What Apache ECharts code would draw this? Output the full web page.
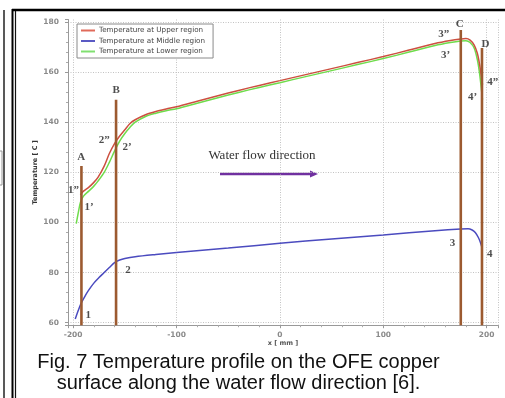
<!DOCTYPE html>
<html><head><meta charset="utf-8">
<script src="https://cdn.jsdelivr.net/npm/echarts@6/dist/echarts.min.js"></script>
<style>html,body{margin:0;padding:0;background:#fff}#c{width:505px;height:398px}</style>
</head><body><div id="c"></div>
<script>
// Upper region (red)
const upperX = [-193,-190,-185,-180,-176,-170,-165,-160,-155,-150,-145,-140,-130,-120,-110,-100,-80,-60,-40,-20,0,25,50,75,100,125,150,165,175,180,184,188,191,193,195,196];
const upperT = [111,112.5,114,116,118,122.5,127.5,131.5,134.5,137,139.5,141,143,144.3,145.3,146.2,148.4,150.6,152.7,154.7,156.6,159,161.4,163.8,166.2,168.8,171.4,172.6,173.2,173.4,172.8,170.8,167.5,163.5,158,155];
// Lower region (green)
const lowerX = [-197,-195,-193,-190,-185,-180,-176,-170,-165,-160,-155,-150,-145,-140,-130,-120,-110,-100,-80,-60,-40,-20,0,25,50,75,100,125,150,165,175,180,184,188,191,193,195,196];
const lowerT = [99.5,104,108,110.5,112.5,114.5,116.5,120,124,128.5,132.5,135.5,138,140,142.3,143.6,144.6,145.4,147.6,149.8,151.9,153.9,155.8,158.2,160.6,163,165.4,168,170.6,171.8,172.4,172.5,171.8,169.5,165,160,153,149];
// Middle region (blue)
const middleX = [-198,-195,-192,-188,-185,-180,-175,-170,-165,-160,-155,-150,-140,-120,-100,-50,0,50,100,150,175,182,186,189,192,194,195.5];
const middleT = [61.5,65,68,71,73,75.8,78,80,82,84,85,85.6,86.3,87.2,88,89.8,91.7,93.4,95,96.7,97.4,97.5,97,96,94,92,90];

const seriesNames = ['Temperature at Upper region','Temperature at Middle region','Temperature at Lower region'];

// Section markers A-D (vertical lines)
const markerX = [-192, -158.5, 175, 195.5];
const markerTop = [122.5, 149, 176.8, 169.6];

// Annotation labels
const annoText = ['A','B','C','D','1\u201d','1\u2019','2\u201d','2\u2019','3\u201d','3\u2019','4\u201d','4\u2019','1','2','3','4'];
const annoX = [-192.3,-158.5,173.9,199,-199.8,-184.5,-170,-147.8,158.5,160.4,205.8,186.5,-185.5,-146.9,167.1,202.9];
const annoT = [126.1,152.9,179.2,171.2,113,106.2,132.9,130.1,175.2,166.8,156,150,63.1,81,91.8,87.4];

const xTicks = [-200,-150,-100,-50,0,50,100,150,200];
const yTicks = [60,80,100,120,140,160,180];

const X_MIN = -205, X_MAX = 211, Y_MIN = 59, Y_MAX = 181;

const zip = (a, b) => a.map((v, i) => [v, b[i]]);

const chart = echarts.init(document.getElementById('c'), null, {renderer: 'canvas'});

const gridColorsX = ['rgba(0,0,0,0)'].concat(xTicks.map(() => '#c2c2c2')).concat(['rgba(0,0,0,0)']);
const gridColorsY = ['rgba(0,0,0,0)'].concat(yTicks.map(() => '#c2c2c2')).concat(['rgba(0,0,0,0)']);

const series = [
  {name: seriesNames[0], type: 'line', data: zip(upperX, upperT), smooth: 0.3, symbol: 'none',
   lineStyle: {color: '#cc5040', width: 1.5}, itemStyle: {color: '#e06a5a'}, z: 4},
  {name: seriesNames[1], type: 'line', data: zip(middleX, middleT), smooth: 0.3, symbol: 'none',
   lineStyle: {color: '#4b4bbf', width: 1.5}, itemStyle: {color: '#5a5ac4'}, z: 4},
  {name: seriesNames[2], type: 'line', data: zip(lowerX, lowerT), smooth: 0.3, symbol: 'none',
   lineStyle: {color: '#6fdc4c', width: 1.5}, itemStyle: {color: '#80e070'}, z: 3}
];
markerX.forEach((x, i) => {
  series.push({type: 'line', data: [[x, Y_MIN], [x, markerTop[i]]], symbol: 'none', silent: true,
    lineStyle: {color: '#9c5a30', width: 2.6}, z: 5});
});
series.push({
  type: 'scatter', symbolSize: 1, itemStyle: {color: 'rgba(0,0,0,0)'}, clip: false, silent: true, z: 6,
  data: annoText.map((t, i) => ({value: [annoX[i], annoT[i]], name: t})),
  label: {show: true, position: 'inside', formatter: p => p.name, color: '#222',
    fontFamily: 'Liberation Serif', fontWeight: 'bold', fontSize: 11}
});

const axisLabelStyle = {color: '#8a8a8a', fontFamily: 'DejaVu Sans', fontSize: 7.5, fontWeight: 'bold'};

chart.setOption({
  animation: false,
  backgroundColor: '#fff',
  grid: {left: 68, right: 505 - 498, top: 19.5, bottom: 398 - 325.2, containLabel: false},
  legend: {
    data: seriesNames.map(n => ({name: n, icon: 'rect'})), orient: 'vertical', left: 77, top: 24,
    itemWidth: 14, itemHeight: 2, itemGap: 3.5,
    padding: [3, 8, 3, 4],
    borderColor: '#8a8a8a', borderWidth: 1, backgroundColor: '#fff',
    textStyle: {fontFamily: 'DejaVu Sans', fontSize: 7.2, color: '#444', padding: [0,0,0,-1]}
  },
  xAxis: {
    type: 'value', min: X_MIN, max: X_MAX,
    name: 'x [ mm ]', nameLocation: 'middle', nameGap: 15, nameMoveOverlap: false,
    nameTextStyle: {fontFamily: 'DejaVu Sans', fontSize: 6.5, fontWeight: 'bold', color: '#555'},
    axisLine: {show: true, onZero: false, lineStyle: {color: '#999', width: 1}},
    axisTick: {show: true, length: 3, lineStyle: {color: '#999'}},
    minorTick: {show: true, splitNumber: 5, length: 2, lineStyle: {color: '#aaa'}},
    axisLabel: Object.assign({margin: 6, showMinLabel: false, showMaxLabel: false,
      formatter: v => xTicks.includes(v) ? String(v) : ''}, axisLabelStyle),
    splitLine: {show: true, lineStyle: {color: gridColorsX, type: [1, 1.5], width: 1}}
  },
  yAxis: {
    type: 'value', min: Y_MIN, max: Y_MAX,
    name: 'Temperature [ C ]', nameLocation: 'middle', nameGap: 29, nameRotate: 90, nameMoveOverlap: false,
    nameTextStyle: {fontFamily: 'DejaVu Sans', fontSize: 6.5, fontWeight: 'bold', color: '#333'},
    axisLine: {show: true, onZero: false, lineStyle: {color: '#999', width: 1}},
    axisTick: {show: true, length: 3, lineStyle: {color: '#999'}},
    minorTick: {show: true, splitNumber: 5, length: 2, lineStyle: {color: '#aaa'}},
    axisLabel: Object.assign({margin: 9, showMinLabel: false, showMaxLabel: false,
      formatter: v => yTicks.includes(v) ? String(v) : ''}, axisLabelStyle),
    splitLine: {show: true, lineStyle: {color: gridColorsY, type: [1, 1.5], width: 1}}
  },
  series: series,
  graphic: [
    // frame lines
    {type: 'line', shape: {x1: 12, y1: 10, x2: 505, y2: 10}, style: {stroke: '#000', lineWidth: 2.5}},
    {type: 'line', shape: {x1: 12.5, y1: 9, x2: 12.5, y2: 398}, style: {stroke: '#000', lineWidth: 2}},
    {type: 'line', shape: {x1: 15.5, y1: 11, x2: 15.5, y2: 398}, style: {stroke: '#111', lineWidth: 1.2}},
    {type: 'line', shape: {x1: 4, y1: 10, x2: 4, y2: 398}, style: {stroke: '#222', lineWidth: 1.5}},
    {type: 'rect', shape: {x: -4, y: 151, width: 6, height: 34}, style: {fill: 'none', stroke: '#999', lineWidth: 1}},
    // water flow annotation
    {type: 'text', x: 262, y: 156, style: {text: 'Water flow direction', font: '13px "Liberation Serif"',
      fill: '#333', align: 'center', verticalAlign: 'middle'}},
    {type: 'line', shape: {x1: 220, y1: 174, x2: 312, y2: 174}, style: {stroke: '#7030a0', lineWidth: 2.5}},
    {type: 'polygon', shape: {points: [[318, 174], [310, 170.5], [310, 177.5]]}, style: {fill: '#7030a0'}},
    // caption
    {type: 'text', x: 238.5, y: 362, style: {text: 'Fig. 7 Temperature profile on the OFE copper',
      font: '20px "Liberation Sans"', fill: '#111', align: 'center', verticalAlign: 'middle'}},
    {type: 'text', x: 238.5, y: 383, style: {text: 'surface along the water flow direction [6].',
      font: '20px "Liberation Sans"', fill: '#111', align: 'center', verticalAlign: 'middle'}}
  ]
});
</script>
</body></html>
